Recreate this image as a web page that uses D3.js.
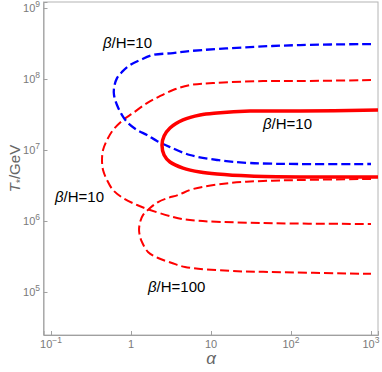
<!DOCTYPE html>
<html>
<head>
<meta charset="utf-8">
<script src="https://cdn.jsdelivr.net/npm/d3@7"></script>
<style>
  body { margin: 0; background: #fff; }
  svg { font-family: "Liberation Sans", Arial, sans-serif; }
</style>
</head>
<body>
<div id="chart"></div>
<script>
// tick values and their exponent labels
const alphaTicks = [0.1, 1, 10, 100, 1000];
const alphaTickLabels = [["10", "-1"], ["1", ""], ["10", ""], ["10", "2"], ["10", "3"]];
const tempTicks = [1e5, 1e6, 1e7, 1e8, 1e9];
const tempTickLabels = [["10", "5"], ["10", "6"], ["10", "7"], ["10", "8"], ["10", "9"]];

// curves as [alpha, T*/GeV] (upper branch -> turning point -> lower branch)
const blueBH10 = [
  [1000, 3.11e8], [130, 3.01e8], [30.7, 2.82e8], [5.46, 2.48e8], [3.35, 2.32e8],
  [1.88, 2.18e8], [1.30, 1.85e8], [0.972, 1.57e8], [0.772, 1.26e8], [0.668, 1.03e8],
  [0.613, 7.46e7], [0.613, 5.95e7], [0.668, 4.30e7], [0.772, 3.11e7], [0.917, 2.40e7],
  [1.19, 1.91e7], [1.585, 1.63e7], [2.11, 1.34e7], [3.07, 1.10e7], [5.46, 8.5e6],
  [11.9, 7.23e6], [30.7, 6.56e6], [130, 6.35e6], [1000, 6.35e6]
];
const redDashBH10 = [
  [1000, 9.68e7], [130, 9.37e7], [44.7, 9.37e7], [10.6, 8.79e7], [5.46, 8.23e7],
  [3.35, 7.0e7], [2.18, 5.57e7], [1.585, 4.59e7], [1.06, 3.32e7], [0.794, 2.65e7],
  [0.596, 1.91e7], [0.501, 1.38e7], [0.447, 1.0e7], [0.434, 7.23e6], [0.447, 5.22e6],
  [0.501, 3.78e6], [0.596, 2.73e6], [0.794, 2.11e6], [1.19, 1.68e6], [1.73, 1.43e6],
  [3.35, 1.14e6], [5.46, 1.03e6], [41, 9.37e5], [1000, 9.08e5]
];
const redDashBH100 = [
  [1000, 3.91e6], [130, 3.78e6], [44.7, 3.66e6], [17.3, 3.43e6], [5.96, 2.82e6],
  [3.87, 2.32e6], [2.90, 2.11e6], [2.18, 1.85e6], [1.73, 1.52e6], [1.41, 1.21e6],
  [1.30, 9.68e5], [1.26, 7.46e5], [1.30, 5.95e5], [1.37, 5.06e5], [1.63, 3.66e5],
  [2.18, 3.01e5], [3.25, 2.56e5], [4.73, 2.25e5], [17.3, 1.98e5], [44.7, 1.92e5],
  [1000, 1.80e5]
];
const redSolidBH10 = [
  [1223, 3.66e7], [130, 3.54e7], [30.7, 3.54e7], [11.9, 3.32e7], [7.29, 3.11e7],
  [4.47, 2.65e7], [3.07, 2.04e7], [2.59, 1.57e7], [2.44, 1.18e7], [2.59, 8.5e6],
  [3.07, 6.78e6], [4.47, 5.57e6], [7.29, 4.90e6], [11.9, 4.59e6], [30.7, 4.30e6],
  [130, 4.17e6], [1223, 4.17e6]
];

const width = 382, height = 372;
const plotLeft = 43.5, plotRight = 378, plotTop = 2, plotBottom = 335;

const svg = d3.select('#chart').append('svg')
  .attr('width', width)
  .attr('height', height);

const x = d3.scaleLog()
  .domain([Math.pow(10, -1.094), Math.pow(10, 3.0875)])
  .range([plotLeft, plotRight]);
const y = d3.scaleLog()
  .domain([Math.pow(10, 4.394), Math.pow(10, 9.085)])
  .range([plotBottom, plotTop]);

svg.append('clipPath').attr('id', 'plot')
  .append('rect')
  .attr('x', plotLeft).attr('y', plotTop)
  .attr('width', plotRight - plotLeft).attr('height', plotBottom - plotTop);

// frame
svg.append('rect')
  .attr('x', plotLeft).attr('y', plotTop)
  .attr('width', plotRight - plotLeft).attr('height', plotBottom - plotTop)
  .attr('fill', 'none')
  .attr('stroke', '#b4b4b4')
  .attr('stroke-width', 1);

// inward ticks, labels drawn separately for the superscripts
const xAxis = svg.append('g')
  .attr('transform', 'translate(0,' + plotBottom + ')')
  .call(d3.axisBottom(x).tickValues(alphaTicks).tickSize(-4).tickFormat(''));
const yAxis = svg.append('g')
  .attr('transform', 'translate(' + plotLeft + ',0)')
  .call(d3.axisLeft(y).tickValues(tempTicks).tickSize(-4).tickFormat(''));
[xAxis, yAxis].forEach(a => {
  a.select('.domain').attr('stroke', '#a0a0a0');
  a.selectAll('.tick line').attr('stroke', '#a0a0a0');
});

const tickColor = '#7a7a7a';

alphaTicks.forEach((t, i) => {
  const txt = svg.append('text')
    .attr('x', x(t))
    .attr('y', 348)
    .attr('text-anchor', 'middle')
    .attr('font-size', 11)
    .attr('fill', tickColor);
  txt.append('tspan').text(alphaTickLabels[i][0]);
  if (alphaTickLabels[i][1]) {
    txt.append('tspan').attr('dy', -5).attr('font-size', 8.5).text(alphaTickLabels[i][1].replace('-', '\u2212'));
  }
});

tempTicks.forEach((t, i) => {
  const txt = svg.append('text')
    .attr('x', 40)
    .attr('y', y(t) + 4)
    .attr('text-anchor', 'end')
    .attr('font-size', 11)
    .attr('fill', tickColor);
  txt.append('tspan').text(tempTickLabels[i][0]);
  txt.append('tspan').attr('dy', -5).attr('font-size', 8.5).text(tempTickLabels[i][1]);
});

// axis titles
const yTitle = svg.append('text')
  .attr('transform', 'translate(20,' + ((plotTop + plotBottom) / 2) + ') rotate(-90)')
  .attr('text-anchor', 'middle')
  .attr('font-size', 15)
  .attr('fill', '#666');
yTitle.append('tspan').attr('font-style', 'italic').text('T');
yTitle.append('tspan').attr('dy', 4).attr('font-size', 10).text('*');
yTitle.append('tspan').attr('dy', -4).text('/GeV');

svg.append('text')
  .attr('x', x(10))
  .attr('y', 364)
  .attr('text-anchor', 'middle')
  .attr('font-size', 17)
  .attr('font-style', 'italic')
  .attr('fill', '#666')
  .text('\u03b1');

// curves
const line = d3.line()
  .x(d => x(d[0]))
  .y(d => y(d[1]))
  .curve(d3.curveCatmullRom.alpha(0.5));

const curves = svg.append('g').attr('clip-path', 'url(#plot)');

curves.append('path').datum(redDashBH10)
  .attr('d', line).attr('fill', 'none')
  .attr('stroke', '#ff0000').attr('stroke-width', 2)
  .attr('stroke-dasharray', '9,4');
curves.append('path').datum(redDashBH100)
  .attr('d', line).attr('fill', 'none')
  .attr('stroke', '#ff0000').attr('stroke-width', 2)
  .attr('stroke-dasharray', '9,4');
curves.append('path').datum(blueBH10)
  .attr('d', line).attr('fill', 'none')
  .attr('stroke', '#0000ff').attr('stroke-width', 2.3)
  .attr('stroke-dasharray', '9,4');
curves.append('path').datum(redSolidBH10)
  .attr('d', line).attr('fill', 'none')
  .attr('stroke', '#ff0000').attr('stroke-width', 3.5);

// curve labels, placed in data coordinates
function betaLabel(a, t, value) {
  const txt = svg.append('text')
    .attr('x', x(a))
    .attr('y', y(t))
    .attr('font-size', 15)
    .attr('fill', '#000');
  txt.append('tspan').attr('font-style', 'italic').text('\u03b2');
  txt.append('tspan').text('/H=' + value);
}
betaLabel(0.447, 2.73e8, 10);
betaLabel(0.112, 1.85e6, 10);
betaLabel(44.7, 1.98e7, 10);
betaLabel(1.63, 1.0e5, 100);
</script>
</body>
</html>
